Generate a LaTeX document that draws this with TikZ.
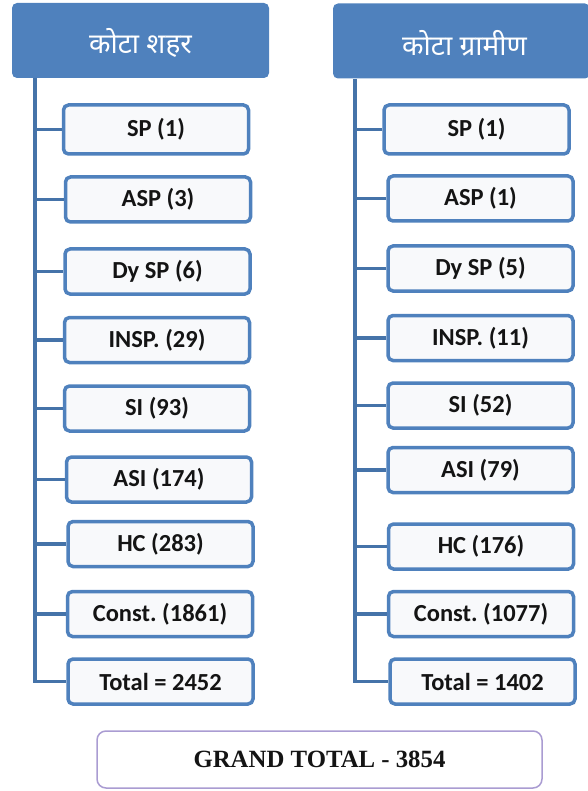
\documentclass[tikz,border=0pt]{standalone}
\usepackage{fontspec}
\setmainfont{Carlito}
\newfontfamily\devfont[Script=Devanagari]{Noto Sans}
\newfontfamily\serifbold{Liberation Serif}
\usetikzlibrary{positioning}

\definecolor{hdrblue}{HTML}{4F81BD}
\definecolor{boxline}{HTML}{4F81BD}
\definecolor{connblue}{HTML}{4573A9}
\definecolor{boxfill}{HTML}{F8F9FB}
\definecolor{gtline}{HTML}{AA9CD2}
\definecolor{txt}{HTML}{141414}

\tikzset{
  header/.style={fill=hdrblue, draw=none, rounded corners=5pt,
    minimum width=#1, minimum height=75pt, inner sep=0pt},
  headtext/.style={text=white, inner sep=0pt, font=\devfont\fontsize{28}{30}\selectfont},
  rankbox/.style={draw=boxline, line width=3.5pt, fill=boxfill,
    rounded corners=5pt, minimum width=185pt, minimum height=45pt,
    inner sep=0pt, text=txt, font=\frenchspacing\bfseries\fontsize{24.5}{27}\selectfont},
  conn/.style={draw=connblue, line width=3.5pt},
  gtbox/.style={draw=gtline, line width=1.5pt, fill=white,
    rounded corners=9pt, minimum width=445pt, minimum height=57pt,
    inner sep=0pt, text=txt, font=\serifbold\bfseries\fontsize{24.8}{27}\selectfont}
}

\begin{document}
\begin{tikzpicture}[x=1pt, y=-1pt]
\useasboundingbox (0,0) rectangle (587,791);

% Headers
\node[header=257pt] (lh) at (140.5,40.5) {};
\node[header=257pt] (rh) at (461.5,41) {};
\node[headtext] (lht) at ([yshift=-2pt]lh.center) {कोटा शहर};
\node[headtext] (rht) at ([yshift=-2pt,xshift=3pt]rh.center) {कोटा ग्रामीण};

% City (left) column
\node[rankbox, minimum height=49pt] (l1) at (156,129.5) {SP (1)};
\node[rankbox] (l2) at (158,199.5) {ASP (3)};
\node[rankbox] (l3) at (157.5,271.5) {Dy SP (6)};
\node[rankbox] (l4) at (157,340) {INSP. (29)};
\node[rankbox] (l5) at (157,408.5) {SI (93)};
\node[rankbox] (l6) at (159,479.5) {ASI (174)};
\node[rankbox] (l7) at (160.5,544) {HC (283)};
\node[rankbox] (l8) at (160,614) {Const. (1861)};
\node[rankbox] (l9) at (160.5,681.5) {Total = 2452};

% Rural (right) column
\node[rankbox, minimum height=49pt] (r1) at (476.5,129.5) {SP (1)};
\node[rankbox] (r2) at (480.5,198.5) {ASP (1)};
\node[rankbox] (r3) at (480.5,268.5) {Dy SP (5)};
\node[rankbox] (r4) at (480.5,338) {INSP. (11)};
\node[rankbox] (r5) at (480.5,405.5) {SI (52)};
\node[rankbox] (r6) at (480.5,470) {ASI (79)};
\node[rankbox] (r7) at (481,546.5) {HC (176)};
\node[rankbox] (r8) at (481,614) {Const. (1077)};
\node[rankbox] (r9) at (482.5,681.5) {Total = 1402};

% Trunk lines
\coordinate (ltrunk) at (35,78);
\coordinate (rtrunk) at (355,79);
\draw[conn] (ltrunk) |- (l9.west);
\draw[conn] (rtrunk) |- (r9.west);
\foreach \n in {1,...,8} {
  \draw[conn] (l\n.west) -- (l\n.west -| ltrunk);
  \draw[conn] (r\n.west) -- (r\n.west -| rtrunk);
}

% Grand total
\node[gtbox] (gt) at (319.5,759.5) {GRAND TOTAL - 3854};
\end{tikzpicture}
\end{document}
